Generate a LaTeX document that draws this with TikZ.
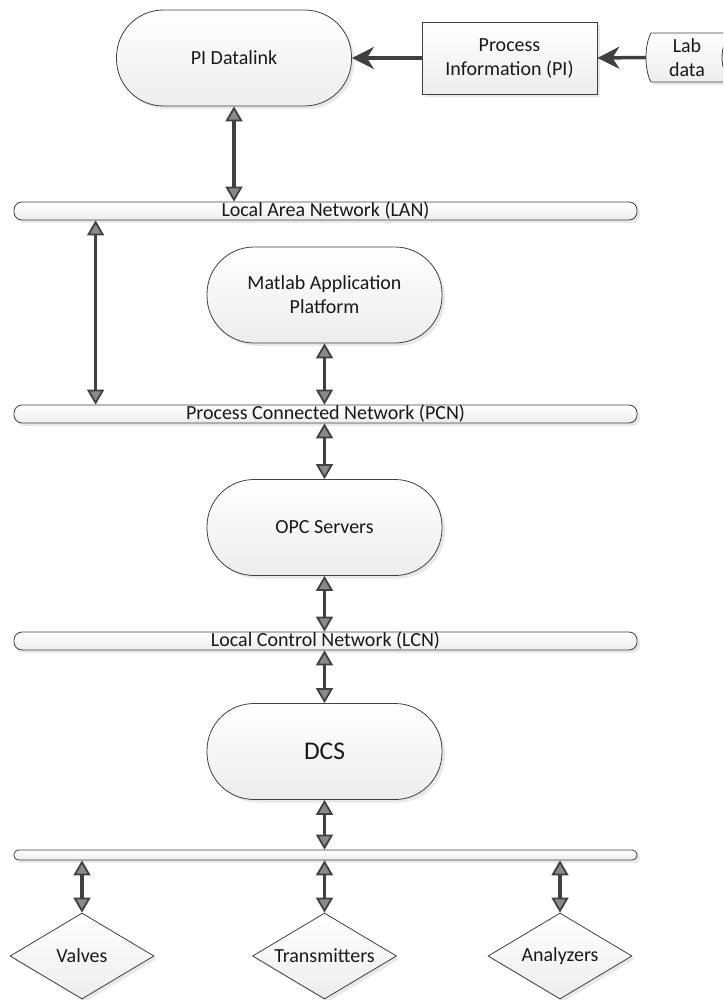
\documentclass[tikz,border=0pt]{standalone}
\usepackage{fontspec}
\setmainfont{Carlito}
\usetikzlibrary{arrows.meta,shapes.geometric,shadows}

\definecolor{wire}{HTML}{404040}
\definecolor{tipfill}{HTML}{8A8A8A}

\begin{document}
\begin{tikzpicture}[x=1pt,y=-1pt,
  every node/.style={font=\fontsize{20}{24}\selectfont, text=black!90},
  box/.style={draw=black!75, line width=0.8pt, top color=white, bottom color=black!7,
    drop shadow={shadow xshift=3pt,shadow yshift=-3pt,opacity=.18}},
  term/.style={box, rectangle, rounded corners=47pt, minimum width=235pt, minimum height=96pt, align=center},
  proc/.style={box, rectangle, minimum width=175pt, minimum height=72pt, align=center},
  bus/.style={box, rectangle, rounded corners=8pt, minimum width=623pt, minimum height=18pt, inner sep=0pt},
  field/.style={box, diamond, aspect=1.67, minimum width=144pt, minimum height=86pt, inner sep=0pt},
  biarrow/.tip={Triangle[length=15pt,width=17pt,fill=tipfill,line width=1.8pt]},
  link/.style={draw=wire, line width=3.5pt, biarrow-biarrow},
  feed/.style={draw=wire, line width=3.5pt, -{Stealth[length=22pt,width=22pt,inset=7pt]}}]
\useasboundingbox (0,0) rectangle (723,1000);
\clip (0,0) rectangle (723,1000);

% lab data store, runs off the right edge
\path[box] (651,33) -- (731,33) .. controls (719,45) and (719,70) .. (731,82)
  -- (651,82) .. controls (644.3,70) and (644.3,45) .. cycle;
\node[minimum width=82pt, minimum height=49pt, align=center] (lab) at (687,57.5) {Lab\\data};

\node[term] (datalink) at (234,58) {PI Datalink};
\node[proc] (info) at (509.5,58) {Process\\Information (PI)};

\node[bus, label={center:Local Area Network (LAN)}] (lan) at (325.5,211) {};
\node[term] (matlab) at (324.5,295) {Matlab Application\\Platform};
\node[bus, label={center:Process Connected Network (PCN)}] (pcn) at (325.5,414) {};
\node[term] (opc) at (324.5,527.5) {OPC Servers};
\node[bus, label={center:Local Control Network (LCN)}] (lcn) at (325.5,641) {};
\node[term, font=\fontsize{25.5}{30}\selectfont] (dcs) at (324.5,751.5) {DCS};
\node[bus, minimum height=10pt, rounded corners=4.5pt] (fieldbus) at (325.5,855) {};

\node[field] (valves) at (82,956) {Valves};
\node[field] (transmitters) at (324.5,956) {Transmitters};
\node[field] (analyzers) at (560,956) {Analyzers};

\draw[feed] (lab.west) -- (info.east);
\draw[feed] (info.west) -- (datalink.east);

\draw[link] (datalink.south) -- (datalink.south |- lan.north);
\draw[link] ([xshift=82pt]lan.south west) -- ([xshift=82pt]pcn.north west);
\draw[link] (matlab.south) -- (matlab.south |- pcn.north);
\draw[link] (opc.north |- pcn.south) -- (opc.north);
\draw[link] (opc.south) -- (opc.south |- lcn.north);
\draw[link] (dcs.north |- lcn.south) -- (dcs.north);
\draw[link] (dcs.south) -- (dcs.south |- fieldbus.north);
\foreach \f in {valves,transmitters,analyzers}
  \draw[link] (\f.north |- fieldbus.south) -- (\f.north);
\end{tikzpicture}
\end{document}
